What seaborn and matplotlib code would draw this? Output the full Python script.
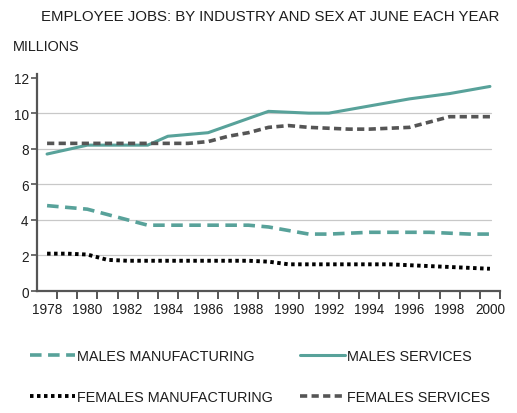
import numpy as np
import pandas as pd
import matplotlib
matplotlib.use("Agg")
import matplotlib.pyplot as plt
from matplotlib.lines import Line2D
import seaborn as sns

years = list(range(1978, 2001))
males_services = [7.7, 7.95, 8.2, 8.2, 8.2, 8.2, 8.7, 8.8, 8.9, 9.3, 9.7, 10.1,
                  10.05, 10.0, 10.0, 10.2, 10.4, 10.6, 10.8, 10.95, 11.1, 11.3, 11.5]
females_services = [8.3, 8.3, 8.3, 8.3, 8.3, 8.3, 8.3, 8.3, 8.4, 8.7, 8.9, 9.2,
                    9.3, 9.2, 9.15, 9.1, 9.1, 9.15, 9.2, 9.5, 9.8, 9.8, 9.8]
males_manufacturing = [4.8, 4.7, 4.6, 4.3, 4.0, 3.7, 3.7, 3.7, 3.7, 3.7, 3.7, 3.6,
                       3.4, 3.2, 3.2, 3.25, 3.3, 3.3, 3.3, 3.3, 3.25, 3.2, 3.2]
females_manufacturing = [2.1, 2.1, 2.05, 1.75, 1.7, 1.7, 1.7, 1.7, 1.7, 1.7, 1.7, 1.65,
                         1.5, 1.5, 1.5, 1.5, 1.5, 1.5, 1.45, 1.4, 1.35, 1.3, 1.25]
series_names = ["MALES MANUFACTURING", "MALES SERVICES",
                "FEMALES MANUFACTURING", "FEMALES SERVICES"]

df = pd.DataFrame({
    "year": years * 4,
    "value": males_manufacturing + males_services + females_manufacturing + females_services,
    "series": sum([[n] * len(years) for n in series_names], []),
})

teal = "#58a29a"
grey = "#555555"
styles = {
    "MALES MANUFACTURING": dict(color=teal, lw=2.6, ls=(0, (3.2, 1.8))),
    "MALES SERVICES": dict(color=teal, lw=2.2, ls="-"),
    "FEMALES MANUFACTURING": dict(color="black", lw=2.8, ls=(0, (0.9, 0.9))),
    "FEMALES SERVICES": dict(color=grey, lw=2.6, ls=(0, (2.0, 1.2))),
}

sns.set_theme(style="white")
plt.rcParams["font.family"] = ["Liberation Sans", "DejaVu Sans"]
txt = "#1e1e1e"

fig = plt.figure(figsize=(5.17, 4.14), dpi=100)
ax = fig.add_axes([37 / 517, 1 - 292 / 414, 463 / 517, 217 / 414])

for name in series_names:
    st = styles[name]
    sub = df[df["series"] == name]
    sns.lineplot(data=sub, x="year", y="value", ax=ax, color=st["color"],
                 linewidth=st["lw"], linestyle=st["ls"], legend=False)

ax.set_xlim(1977.5, 2000.5)
ax.set_ylim(0, 12.2)
# labels at even years, tick marks between the years
ax.set_xticks(range(1978, 2001, 2))
ax.set_xticks(np.arange(1978.5, 2001, 1), minor=True)
ax.set_yticks(range(0, 13, 2))
for y in range(2, 12, 2):
    ax.axhline(y, xmax=0.98, color="#c8c8c8", lw=0.9, zorder=0)
ax.set_xlabel("")
ax.set_ylabel("")
for s in ["top", "right"]:
    ax.spines[s].set_visible(False)
for s in ["left", "bottom"]:
    ax.spines[s].set_color("#555555")
    ax.spines[s].set_linewidth(1.6)
ax.tick_params(axis="x", which="major", length=0, labelsize=9.8, pad=8,
               labelcolor=txt, bottom=True)
ax.tick_params(axis="x", which="minor", direction="out", length=6, width=1.4,
               color="#555555", bottom=True)
ax.tick_params(axis="y", direction="out", length=4, width=1.2,
               color="#555555", labelsize=9.8, pad=2, labelcolor=txt, left=True)

fig.text(0.522, 0.959, "EMPLOYEE JOBS: BY INDUSTRY AND SEX AT JUNE EACH YEAR",
         ha="center", va="center", fontsize=10.8, color=txt)
fig.text(0.025, 0.886, "MILLIONS", ha="left", va="center", fontsize=10.4, color=txt)

handles = [Line2D([0], [0], color=styles[n]["color"], lw=styles[n]["lw"],
                  ls=styles[n]["ls"]) for n in series_names]
fig.legend(handles[:1] + handles[2:3] + handles[1:2] + handles[3:],
           [series_names[0], series_names[2], series_names[1], series_names[3]],
           ncol=2, loc="upper left", bbox_to_anchor=(30 / 517, 1 - 350 / 414),
           frameon=False, fontsize=10.4, handlelength=3.1, handletextpad=0.15,
           columnspacing=1.9, labelspacing=1.9, borderpad=0, borderaxespad=0,
           labelcolor=txt)

fig.savefig("out.png", dpi=100)
